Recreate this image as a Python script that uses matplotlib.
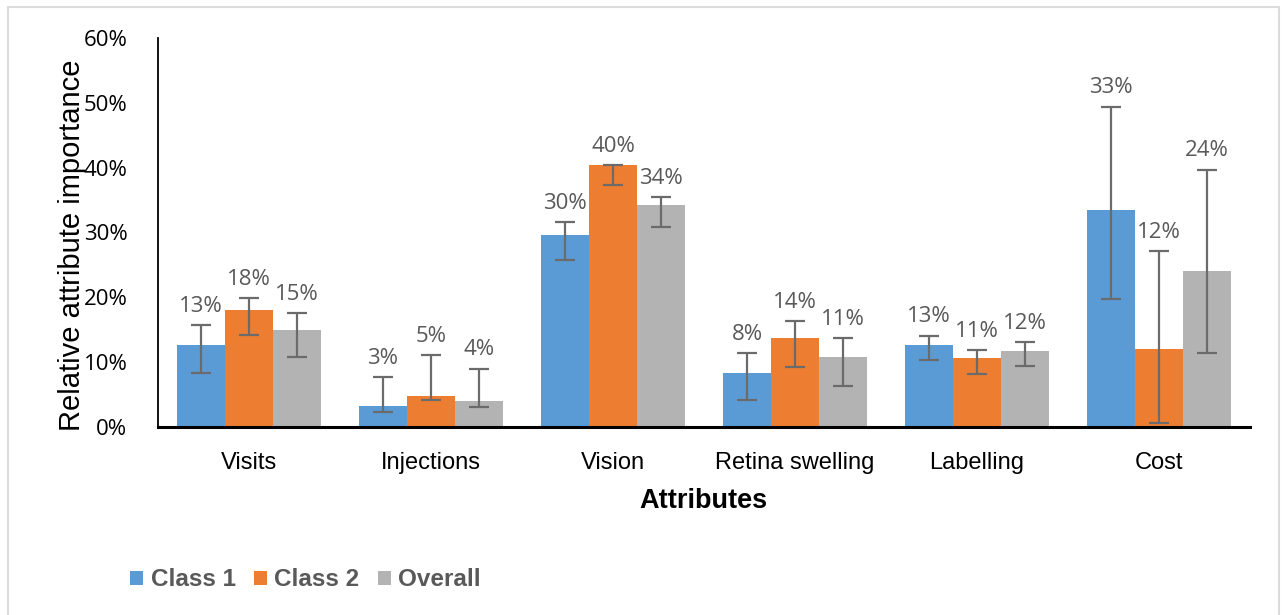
import matplotlib
matplotlib.use("Agg")
import matplotlib.pyplot as plt
import matplotlib.patches as mpatches
import numpy as np

# data (percent)
attributes = ["Visits", "Injections", "Vision", "Retina swelling", "Labelling", "Cost"]
series = ["Class 1", "Class 2", "Overall"]

class1 = [12.6, 3.2, 29.6, 8.3, 12.6, 33.4]
class2 = [18.0, 4.8, 40.4, 13.8, 10.7, 12.1]
overall = [15.0, 4.0, 34.3, 10.8, 11.7, 24.1]

# error bar ends (lower, upper)
class1_lo = [8.3, 2.3, 25.8, 4.2, 10.3, 19.8]
class1_hi = [15.7, 7.7, 31.6, 11.4, 14.1, 49.4]
class2_lo = [14.2, 4.2, 37.4, 9.3, 8.1, 0.6]
class2_hi = [19.9, 11.1, 40.3, 16.3, 11.9, 27.1]
overall_lo = [10.8, 3.1, 30.9, 6.4, 9.4, 11.4]
overall_hi = [17.6, 9.0, 35.4, 13.7, 13.1, 39.7]

labels_c1 = ["13%", "3%", "30%", "8%", "13%", "33%"]
labels_c2 = ["18%", "5%", "40%", "14%", "11%", "12%"]
labels_ov = ["15%", "4%", "34%", "11%", "12%", "24%"]

colors = ["#5B9BD5", "#ED7D31", "#B3B3B3"]
text_grey = "#595959"
err_grey = "#6B6B6B"

fig = plt.figure(figsize=(12.85, 6.15), dpi=100)
ax = fig.add_axes([158 / 1285, 1 - 427 / 615, 1092 / 1285, 389 / 615])

x = np.arange(len(attributes))
width = 0.264

all_vals = [class1, class2, overall]
all_lo = [class1_lo, class2_lo, overall_lo]
all_hi = [class1_hi, class2_hi, overall_hi]
all_labels = [labels_c1, labels_c2, labels_ov]

for i in range(3):
    pos = x + (i - 1) * width
    vals = np.array(all_vals[i])
    lo = np.array(all_lo[i])
    hi = np.array(all_hi[i])
    ax.bar(pos, vals, width=width, color=colors[i], label=series[i], zorder=2)
    yerr = np.vstack([np.clip(vals - lo, 0, None), np.clip(hi - vals, 0, None)])
    ax.errorbar(pos, vals, yerr=yerr, fmt="none", ecolor=err_grey,
                elinewidth=1.6, capsize=7, capthick=1.6, zorder=3)
    for p, v, h, lab in zip(pos, vals, hi, all_labels[i]):
        ax.annotate(lab, xy=(p, max(h, v)),
                    xytext=(0, 6), textcoords="offset points",
                    ha="center", va="bottom", fontsize=16,
                    family="Open Sans", color=text_grey)

ax.set_xlim(-0.5, len(attributes) - 0.5)
ax.set_ylim(0, 60)
ax.set_yticks(np.arange(0, 61, 10))
ax.set_yticklabels([f"{v}%" for v in range(0, 61, 10)],
                   family="Open Sans", fontsize=16, color="black")
ax.set_xticks(x)
ax.set_xticklabels(attributes, family="Liberation Sans", fontsize=17, color="black")
ax.tick_params(axis="both", length=0)
ax.tick_params(axis="y", pad=22)
ax.tick_params(axis="x", pad=18)

for s in ["top", "right"]:
    ax.spines[s].set_visible(False)
ax.spines["left"].set_linewidth(1.3)
ax.spines["bottom"].set_linewidth(2.2)
ax.spines["left"].set_color("black")
ax.spines["bottom"].set_color("black")

ax.set_ylabel("Relative attribute importance", family="Liberation Sans",
              fontsize=21, color="black")
ax.yaxis.set_label_coords(-0.066, 0.467)
ax.set_xlabel("Attributes", family="Liberation Sans", fontsize=19.5,
              fontweight="bold", color="black")
ax.xaxis.set_label_coords(0.499, -0.157)

leg = fig.legend(loc="center left", bbox_to_anchor=(108 / 1285, 1 - 580 / 615),
                 ncol=3, frameon=False, handlelength=0.55, handleheight=0.55,
                 handletextpad=0.3, columnspacing=0.75,
                 prop={"family": "Liberation Sans", "weight": "bold", "size": 17.5})
for t in leg.get_texts():
    t.set_color(text_grey)

# chart area border
fig.patches.append(mpatches.Rectangle((8 / 1285, -0.02), 1271 / 1285, 1 - 7 / 615 + 0.02,
                                      transform=fig.transFigure, fill=False,
                                      edgecolor="#DCDCDC", linewidth=1.5))

fig.savefig("out.png", dpi=100)
